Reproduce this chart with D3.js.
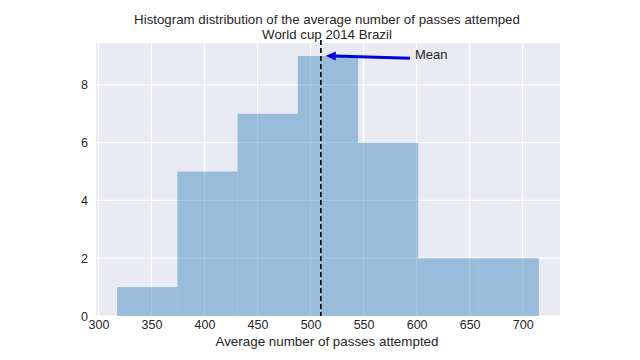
<!DOCTYPE html>
<html><head><meta charset="utf-8">
<script src="https://cdn.jsdelivr.net/npm/d3@7"></script>
<style>body{margin:0;background:#fff}svg{display:block}text{font-family:"Liberation Sans",Arial,sans-serif}</style>
</head><body><svg id="c" width="640" height="360"></svg>
<script>
const binEdges = [317.6, 374.4, 431.2, 488.0, 544.8, 601.6, 658.4, 715.3];
const counts = [1, 5, 7, 9, 6, 2, 2];
const meanValue = 509.7;
const xTicks = [300, 350, 400, 450, 500, 550, 600, 650, 700];
const yTicks = [0, 2, 4, 6, 8];
const titleLines = ["Histogram distribution of the average number of passes attemped", "World cup 2014 Brazil"];
const xLabel = "Average number of passes attempted";
const annotation = "Mean";
// arrow annotation: tail (text side) and head (pointing at mean) in data units
const arrowTail = [593.8, 8.92];
const arrowHead = [514.3, 9.01];
const textPos = [598.5, 8.9];

const svg = d3.select("#c");
const L = 96, R = 560, T = 43, B = 316;
const x = d3.scaleLinear().domain([297.7, 735.2]).range([L, R]);
const y = d3.scaleLinear().domain([0, 9.45]).range([B, T]);

svg.append("rect").attr("x", L).attr("y", T).attr("width", R - L).attr("height", B - T).attr("fill", "#EAEAF2");

const gx = svg.append("g").attr("transform", `translate(0,${B})`)
  .call(d3.axisBottom(x).tickValues(xTicks).tickSize(0).tickPadding(4));
gx.select(".domain").remove();
gx.selectAll("text").attr("font-size", 12.5).attr("fill", "#262626");
const gy = svg.append("g").attr("transform", `translate(${L},0)`)
  .call(d3.axisLeft(y).tickValues(yTicks).tickSize(0).tickPadding(8));
gy.select(".domain").remove();
gy.selectAll("text").attr("font-size", 12.5).attr("fill", "#262626");

svg.append("g").selectAll("line").data(xTicks).join("line")
  .attr("x1", d => x(d)).attr("x2", d => x(d)).attr("y1", T).attr("y2", B)
  .attr("stroke", "#fff").attr("stroke-width", 1.2);
svg.append("g").selectAll("line").data(yTicks).join("line")
  .attr("y1", d => y(d)).attr("y2", d => y(d)).attr("x1", L).attr("x2", R)
  .attr("stroke", "#fff").attr("stroke-width", 1.2);

svg.append("g").selectAll("rect").data(counts).join("rect")
  .attr("x", (d, i) => x(binEdges[i]))
  .attr("width", (d, i) => x(binEdges[i + 1]) - x(binEdges[i]))
  .attr("y", d => y(d)).attr("height", d => B - y(d))
  .attr("fill", "#1f77b4").attr("fill-opacity", 0.4);

svg.append("line").attr("x1", x(meanValue)).attr("x2", x(meanValue))
  .attr("y1", T - 3).attr("y2", B).attr("stroke", "#000").attr("stroke-width", 1.6)
  .attr("stroke-dasharray", "5,3");

// arrow
const tx = x(arrowTail[0]), ty = y(arrowTail[1]), hx = x(arrowHead[0]), hy = y(arrowHead[1]);
const ang = Math.atan2(hy - ty, hx - tx);
const hl = 10, hw = 4.6;
const bx = hx - hl * Math.cos(ang), by = hy - hl * Math.sin(ang);
svg.append("line").attr("x1", tx).attr("y1", ty).attr("x2", bx + 1 * Math.cos(ang)).attr("y2", by + 1 * Math.sin(ang))
  .attr("stroke", "#0000dd").attr("stroke-width", 3);
svg.append("path").attr("d", `M${hx},${hy} L${bx - hw * Math.sin(ang)},${by + hw * Math.cos(ang)} L${bx + hw * Math.sin(ang)},${by - hw * Math.cos(ang)} Z`)
  .attr("fill", "#0000dd");
svg.append("text").attr("x", x(textPos[0])).attr("y", y(textPos[1])).attr("font-size", 13).attr("fill", "#262626").text(annotation);

svg.append("g").selectAll("text").data(titleLines).join("text")
  .attr("x", (L + R) / 2 - 1).attr("y", (d, i) => 24 + i * 15).attr("text-anchor", "middle")
  .attr("font-size", 13.3).attr("fill", "#262626").text(d => d);
svg.append("text").attr("x", (L + R) / 2 - 1).attr("y", 346).attr("text-anchor", "middle")
  .attr("font-size", 13.4).attr("fill", "#262626").text(xLabel);
</script></body></html>
